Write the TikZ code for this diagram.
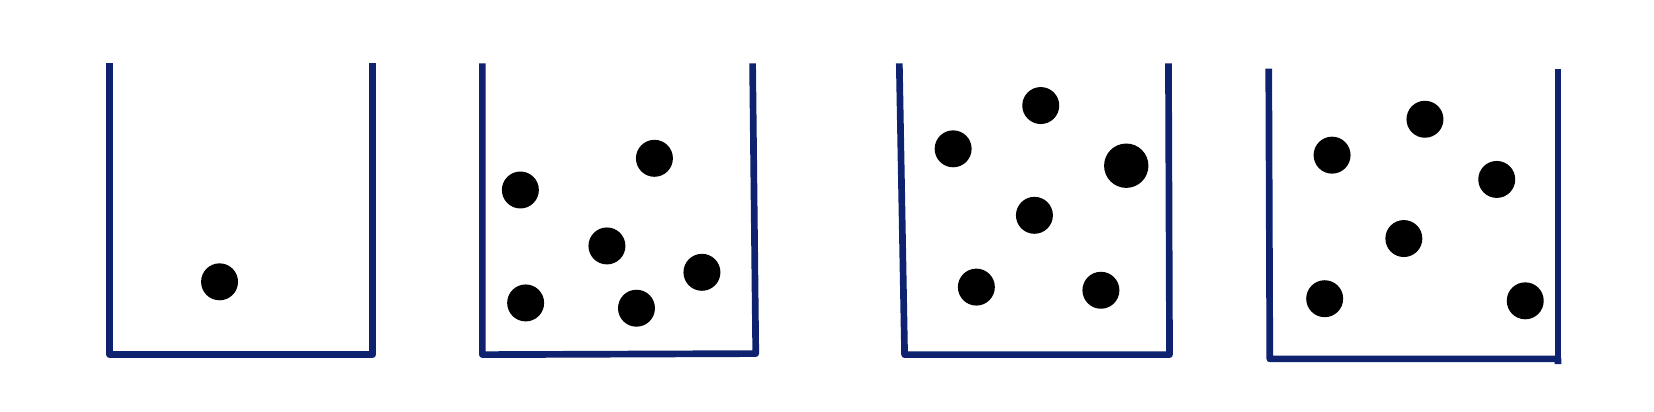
\documentclass[tikz,border=0pt]{standalone}
\definecolor{navy}{RGB}{14,34,112}
\begin{document}
\begin{tikzpicture}
  [x=0.01cm,y=-0.01cm,
   every node/.style={circle,fill=black,inner sep=0pt,minimum size=0.35cm},
   wall/.style={navy,line width=1.8pt,line join=round}]
  \useasboundingbox (0,0) rectangle (1567,390.3);
  % containers
  \draw[wall] (104,60) -- (104,336) -- (353,336) -- (353,60);
  \draw[wall] (457,60) -- (457,336) -- (716,335) -- (713,60);
  \draw[wall] (852,60) -- (857,336) -- (1108,336) -- (1107,60);
  \draw[wall] (1202,65) -- (1203,340) -- (1476,340) -- (1476,345);
  \draw[wall] (1476,340) -- (1476,65);

  % particles
  \node (a1) at (208,267) {};

  \node (b1) at (493,180) {};
  \node (b2) at (620,150) {};
  \node (b3) at (575,233) {};
  \node (b4) at (665,258) {};
  \node (b5) at (498,287) {};
  \node (b6) at (603,292) {};

  \node (c1) at (986,100) {};
  \node (c2) at (903,141) {};
  \node[minimum size=0.42cm] (c3) at (1067,157) {};
  \node (c4) at (980,204) {};
  \node (c5) at (925,272) {};
  \node (c6) at (1043,275) {};

  \node (d1) at (1350,113) {};
  \node (d2) at (1262,147) {};
  \node (d3) at (1418,170) {};
  \node (d4) at (1330,226) {};
  \node (d5) at (1255,283) {};
  \node (d6) at (1445,285) {};
\end{tikzpicture}
\end{document}
